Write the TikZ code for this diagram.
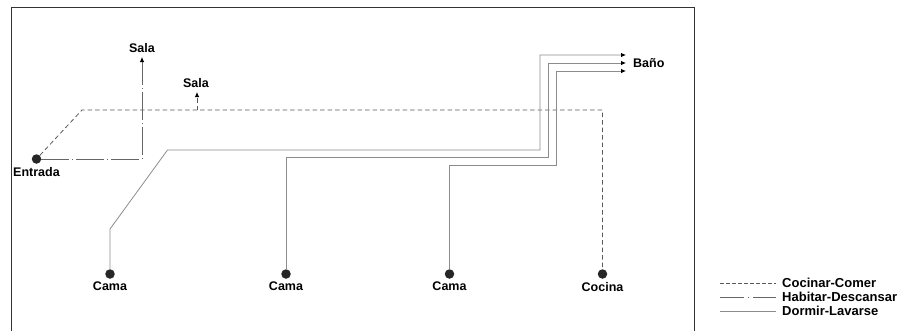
\documentclass[tikz,border=0pt]{standalone}
\usepackage{fontspec}
\setmainfont{Liberation Sans}
\usetikzlibrary{positioning, arrows.meta}

\tikzset{
  dot/.style={circle, fill=black!85, inner sep=0pt, minimum size=9.5pt},
  lbl/.style={font=\bfseries\fontsize{12.5}{14}\selectfont, inner sep=1pt},
  leglbl/.style={font=\bfseries\fontsize{13}{15}\selectfont, inner sep=1pt, anchor=west},
  cocinar/.style={black!65, line width=0.8pt, dash pattern=on 4.5pt off 3pt},
  habitar/.style={black!60, line width=0.8pt, dash pattern=on 28pt off 3pt on 1pt off 3pt},
  dormir/.style={black!45, line width=0.8pt},
  tip/.style={-{Latex[length=5pt, width=4.5pt, color=black]}}
}

\begin{document}
\begin{tikzpicture}[x=1pt, y=-1pt]
    \useasboundingbox (0,0) rectangle (910,330);

    % Frame (open at the bottom)
    \draw[black!80, line width=0.9pt] (11,331) -- (11,7) -- (694,7) -- (694,331);

    % Rooms
    \node[dot] (entrada) at (36.5,159) {};
    \node[lbl, below=2pt of entrada] (entradatxt) {Entrada};
    \node[dot] (cama1) at (110,274) {};
    \node[dot] (cama2) at (286,274) {};
    \node[dot] (cama3) at (449.5,274) {};
    \node[dot] (cocina) at (602.5,274) {};
    \node[lbl, below=2pt of cama1] (cama1txt) {Cama};
    \node[lbl, below=2pt of cama2] (cama2txt) {Cama};
    \node[lbl, below=2pt of cama3] (cama3txt) {Cama};
    \node[lbl, below=2pt of cocina] (cocinatxt) {Cocina};

    % Arrow ends
    \coordinate (salaA) at (142,57);
    \coordinate (salaB) at (197,92);
    \coordinate (bano1) at (626,55);
    \coordinate (bano2) at (626,63);
    \coordinate (bano3) at (626,71);
    \node[lbl, above=3pt of salaA] (salaAtxt) {Sala};
    \node[lbl, above=3pt of salaB, xshift=-1pt] (salaBtxt) {Sala};
    \node[lbl, right=6pt of bano2] (banotxt) {Baño};

    % Cocinar-Comer
    \coordinate (c1) at (82,110);
    \coordinate (c2) at (197,110);
    \draw[cocinar] (entrada) -- (c1) -| (cocina);
    \draw[cocinar, tip] (c2) -- (salaB);

    % Habitar-Descansar
    \draw[habitar, tip] (entrada) -| (salaA);

    % Dormir-Lavarse
    \draw[dormir, tip] (cama1) -- (110,229) -- (167.5,150) -| (540,55) -- (bano1);
    \draw[dormir, tip] (cama2) |- (548,157.5) |- (bano2);
    \draw[dormir, tip] (cama3) |- (556,165) |- (bano3);

    % Legend
    \coordinate (l1) at (720,283);
    \coordinate (l2) at (720,297);
    \coordinate (l3) at (720,311);
    \node[leglbl] (leg1) at (781,283) {Cocinar-Comer};
    \node[leglbl] (leg2) at (781,297) {Habitar-Descansar};
    \node[leglbl] (leg3) at (781,311) {Dormir-Lavarse};
    \draw[cocinar, line width=0.6pt, dash pattern=on 3.5pt off 2.5pt] (l1) -- ([xshift=-5pt]leg1.west);
    \draw[habitar, line width=0.6pt, dash pattern=on 24pt off 4pt on 1pt off 4pt] (l2) -- ([xshift=-5pt]leg2.west);
    \draw[dormir, line width=0.6pt] (l3) -- ([xshift=-5pt]leg3.west);
\end{tikzpicture}
\end{document}
